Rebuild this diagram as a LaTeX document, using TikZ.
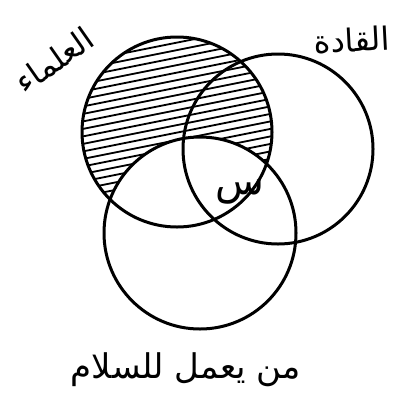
\documentclass[tikz,border=0pt]{standalone}
\usepackage{fontspec}
\newfontfamily\arabicfont[Script=Arabic]{DejaVu Sans}
\TeXXeTstate=1
\begin{document}
\begin{tikzpicture}[x=1pt,y=-1pt,
  ring/.style={circle,draw,line width=3pt,inner sep=0pt},
  hatch/.style={line width=1.8pt},
  lbl/.style={font=\arabicfont, inner sep=0pt}]
\useasboundingbox (0,0) rectangle (406,400);
% hatching: circle A minus circle C
\begin{scope}
  \clip (177,132) circle (95pt);
  \foreach \i in {-14,...,14} {
    \draw[hatch] (70,{132+\i*7.5+22}) -- (290,{132+\i*7.5-22});
  }
\end{scope}
\fill[white] (200,233) circle (96pt);
\node[ring,minimum size=190pt] (A) at (177,132) {};
\node[ring,minimum size=190pt] (B) at (278,149) {};
\node[ring,minimum size=192pt] (C) at (200,233) {};
\node[lbl,font=\arabicfont\fontsize{32}{36}\selectfont,rotate=35] (la) at (54,60) {\beginR العلماء\endR};
\node[lbl,font=\arabicfont\fontsize{32}{36}\selectfont,rotate=3] (lb) at (352,40) {\beginR القادة\endR};
\node[lbl,font=\arabicfont\fontsize{34}{38}\selectfont] (lc) at (186,370) {\beginR من يعمل للسلام\endR};
\node[lbl,font=\arabicfont\fontsize{40}{44}\selectfont] (ls) at (240,192) {\beginR س\endR};
\end{tikzpicture}
\end{document}
